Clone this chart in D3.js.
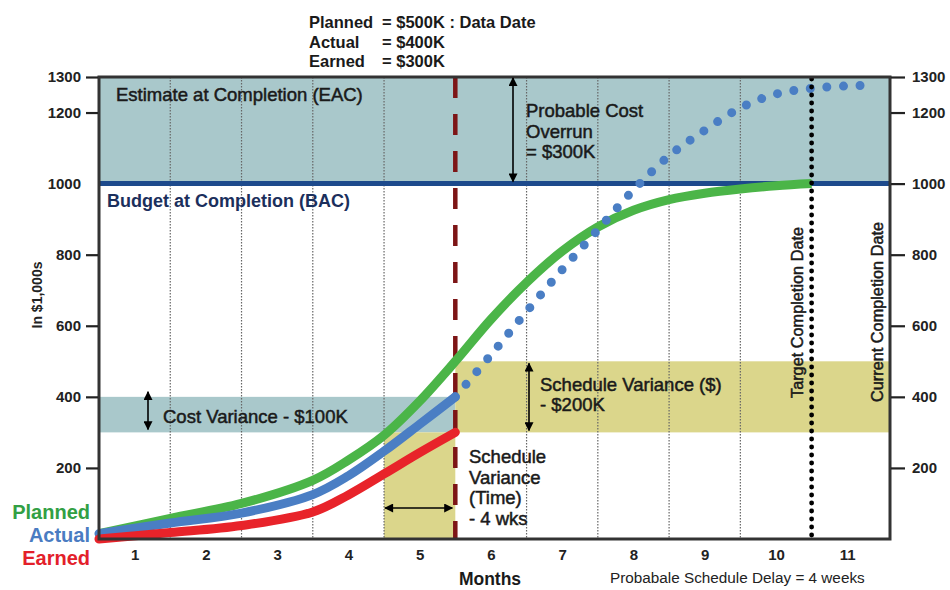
<!DOCTYPE html>
<html>
<head>
<meta charset="utf-8">
<script src="https://cdn.jsdelivr.net/npm/d3@7"></script>
<style>
  html, body { margin: 0; padding: 0; background: #fff; }
  svg { display: block; font-family: "Liberation Sans", Arial, Helvetica, sans-serif; }
</style>
</head>
<body>
<svg id="chart" width="950" height="590"></svg>
<script>
// ---- data (values in $1,000s, x in months) ----
const monthLabels = [1, 2, 3, 4, 5, 6, 7, 8, 9, 10, 11];
const gridMonths = [1.5, 2.5, 3.5, 4.5, 6.5, 7.5, 8.5, 9.5];
const yTicks = [200, 400, 600, 800, 1000, 1200, 1300];

const plannedMonths = [0.5, 1.5, 2.5, 3.5, 4.0, 4.5, 5.0, 5.5, 6.0, 6.5, 7.0, 7.5, 8.0, 8.5, 9.0, 9.5, 10.0, 10.5];
const plannedValues = [15, 58, 100, 165, 222, 292, 388, 500, 618, 722, 810, 878, 925, 955, 973, 985, 994, 1000];

const actualMonths = [0.5, 1.5, 2.5, 3.5, 4.0, 4.5, 5.0, 5.5];
const actualValues = [15, 45, 73, 125, 178, 247, 323, 400];
const earnedValues = [0, 18, 38, 76, 124, 183, 243, 300];

const forecastMonths = [5.5, 6.0, 6.5, 7.0, 7.5, 8.0, 8.5, 9.0, 9.5, 10.0, 10.5, 11.0, 11.4];
const forecastValues = [400, 518, 640, 758, 870, 982, 1078, 1150, 1213, 1252, 1268, 1275, 1277];

const dataDate = 5.5;
const targetDate = 10.5;
const budgetAtCompletion = 1000;
const estimateAtCompletion = 1300;
const plannedAtDataDate = 500;
const actualAtDataDate = 400;
const earnedAtDataDate = 300;
const scheduleSlipStart = 4.5;

// ---- colours ----
const C = {
  green: "#4bb548", blue: "#4a7ec4", red: "#e8232a",
  teal: "#a9c8cb", olive: "#dbd68b", bac: "#1d4a8c",
  dataDate: "#7d1516", frame: "#333", text: "#1a1a1a"
};

const svg = d3.select("#chart");
const x = d3.scaleLinear().domain([0.5, 11.6]).range([99, 890]);
const y = d3.scaleLinear().domain([0, 1300]).range([539, 77]);
const [x0, x1] = x.range();
const [yb, yt] = y.range();

// arrow heads
const defs = svg.append("defs");
defs.append("marker").attr("id", "arr")
  .attr("viewBox", "0 0 10 10").attr("refX", 9).attr("refY", 5)
  .attr("markerUnits", "userSpaceOnUse").attr("markerWidth", 10).attr("markerHeight", 9)
  .attr("orient", "auto-start-reverse")
  .append("path").attr("d", "M0,0 L10,5 L0,10 Z").attr("fill", "#000");

// ---- bands ----
const bands = svg.append("g");
bands.append("rect") // EAC region
  .attr("x", x0).attr("width", x1 - x0)
  .attr("y", y(estimateAtCompletion)).attr("height", y(budgetAtCompletion) - y(estimateAtCompletion))
  .attr("fill", C.teal);
bands.append("rect") // cost variance
  .attr("x", x0).attr("width", x(dataDate) - x0)
  .attr("y", y(actualAtDataDate)).attr("height", y(earnedAtDataDate) - y(actualAtDataDate))
  .attr("fill", C.teal);
bands.append("rect") // schedule variance ($)
  .attr("x", x(dataDate)).attr("width", x1 - x(dataDate))
  .attr("y", y(plannedAtDataDate)).attr("height", y(earnedAtDataDate) - y(plannedAtDataDate))
  .attr("fill", C.olive);
bands.append("rect") // schedule variance (time)
  .attr("x", x(scheduleSlipStart)).attr("width", x(dataDate) - x(scheduleSlipStart))
  .attr("y", y(earnedAtDataDate)).attr("height", y(0) - y(earnedAtDataDate))
  .attr("fill", C.olive);

// ---- dotted month dividers ----
svg.append("g").selectAll("line").data(gridMonths).join("line")
  .attr("x1", d => x(d)).attr("x2", d => x(d))
  .attr("y1", yt).attr("y2", yb)
  .attr("stroke", "#666").attr("stroke-width", 1.2).attr("stroke-dasharray", "1.5,1.5");

// ---- BAC line ----
svg.append("line")
  .attr("x1", x0).attr("x2", x1)
  .attr("y1", y(budgetAtCompletion)).attr("y2", y(budgetAtCompletion))
  .attr("stroke", C.bac).attr("stroke-width", 5);

// ---- data date line ----
svg.append("line")
  .attr("x1", x(dataDate)).attr("x2", x(dataDate))
  .attr("y1", yt).attr("y2", yb)
  .attr("stroke", C.dataDate).attr("stroke-width", 4.5).attr("stroke-dasharray", "21,16");

// ---- curves ----
const line = d3.line().x(d => x(d[0])).y(d => y(d[1])).curve(d3.curveCatmullRom.alpha(0.5));
const zip = (a, b) => a.map((v, i) => [v, b[i]]);

svg.append("path").datum(zip(plannedMonths, plannedValues))
  .attr("d", line).attr("fill", "none").attr("stroke", C.green)
  .attr("stroke-width", 9).attr("stroke-linecap", "butt");
svg.append("path").datum(zip(actualMonths, actualValues))
  .attr("d", line).attr("fill", "none").attr("stroke", C.blue)
  .attr("stroke-width", 9).attr("stroke-linecap", "round");
svg.append("path").datum(zip(actualMonths, earnedValues))
  .attr("d", line).attr("fill", "none").attr("stroke", C.red)
  .attr("stroke-width", 9).attr("stroke-linecap", "round");
svg.append("path").datum(zip(forecastMonths, forecastValues))
  .attr("d", line).attr("fill", "none").attr("stroke", C.blue)
  .attr("stroke-width", 9).attr("stroke-linecap", "round")
  .attr("stroke-dasharray", "0,16.6");

// ---- target completion line (dots) ----
svg.append("line")
  .attr("x1", x(targetDate)).attr("x2", x(targetDate))
  .attr("y1", yt + 2).attr("y2", yb)
  .attr("stroke", "#000").attr("stroke-width", 4.8)
  .attr("stroke-linecap", "round").attr("stroke-dasharray", "0,8");

// ---- frame ----
svg.append("rect")
  .attr("x", x0).attr("y", yt).attr("width", x1 - x0).attr("height", yb - yt)
  .attr("fill", "none").attr("stroke", C.frame).attr("stroke-width", 3);

// ---- axes ----
const fmt = d3.format("d");
const leftAxis = svg.append("g").attr("transform", `translate(${x0 - 1},0)`)
  .call(d3.axisLeft(y).tickValues(yTicks).tickSize(12).tickPadding(5).tickFormat(fmt));
leftAxis.selectAll(".tick line").filter(d => d === budgetAtCompletion).remove();
const rightAxis = svg.append("g").attr("transform", `translate(${x1 + 1},0)`)
  .call(d3.axisRight(y).tickValues(yTicks).tickSize(14).tickPadding(7).tickFormat(fmt));
[leftAxis, rightAxis].forEach(g => {
  g.select(".domain").remove();
  g.selectAll(".tick line").attr("stroke", "#222").attr("stroke-width", 2.2);
  g.selectAll(".tick text").attr("fill", "#222").attr("font-size", 15)
    .attr("font-weight", "bold").attr("font-family", "Liberation Sans, Arial, sans-serif");
});
const bottomAxis = svg.append("g").attr("transform", `translate(0,${yb})`)
  .call(d3.axisBottom(x).tickValues(monthLabels).tickSize(0).tickPadding(10).tickFormat(fmt));
bottomAxis.select(".domain").remove();
bottomAxis.selectAll(".tick text").attr("fill", "#222").attr("font-size", 15)
  .attr("font-weight", "bold").attr("font-family", "Liberation Sans, Arial, sans-serif");

// ---- arrows ----
const arrow = (xa, ya, xb, yb2) => svg.append("line")
  .attr("x1", xa).attr("y1", ya).attr("x2", xb).attr("y2", yb2)
  .attr("stroke", "#000").attr("stroke-width", 1.6)
  .attr("marker-start", "url(#arr)").attr("marker-end", "url(#arr)");
arrow(513, y(estimateAtCompletion) + 1, 513, y(budgetAtCompletion) - 2);
arrow(148, y(actualAtDataDate) - 5, 148, y(earnedAtDataDate) - 3);
arrow(529, y(plannedAtDataDate) + 2, 529, y(earnedAtDataDate) - 2);
arrow(x(scheduleSlipStart) + 1, 508, x(dataDate) - 3, 508);

// ---- text ----
const medium = (sel) => sel.attr("fill", C.text).attr("stroke", C.text).attr("stroke-width", 0.5);
const text = (str, tx, ty, size, opts = {}) => {
  const t = svg.append("text").attr("x", tx).attr("y", ty).attr("font-size", size).text(str);
  if (opts.bold) t.attr("font-weight", "bold").attr("fill", opts.color || C.text);
  else medium(t);
  if (opts.anchor) t.attr("text-anchor", opts.anchor);
  if (opts.color && !opts.bold) t.attr("fill", opts.color).attr("stroke", opts.color);
  return t;
};

// header summary at the data date
[["Planned", "= $500K : Data Date", 28], ["Actual", "= $400K", 48], ["Earned", "= $300K", 67]]
  .forEach(([k, v, ty]) => {
    text(k, 309, ty, 16.5, { bold: true });
    text(v, 382, ty, 16.5, { bold: true });
  });

text("Estimate at Completion (EAC)", 116, 101, 18.5);
text("Budget at Completion (BAC)", 107, 207, 18, { bold: true, color: "#1b2f5c" });
["Probable Cost", "Overrun", "= $300K"].forEach((s, i) => text(s, 526, 117 + i * 20.7, 18.5));
text("Cost Variance - $100K", 163, 423, 18.5);
text("Schedule Variance ($)", 540, 391, 18.5);
text("- $200K", 540, 411, 18.5);
["Schedule", "Variance", "(Time)", "- 4 wks"].forEach((s, i) => text(s, 469, 463 + i * 20.7, 18.5));

text("Months", 490, 585, 17.5, { bold: true, anchor: "middle" });
svg.append("text").attr("x", 610).attr("y", 583).attr("font-size", 15.3)
  .attr("fill", "#222").text("Probabale Schedule Delay = 4 weeks");

svg.append("text").attr("transform", "translate(42,295) rotate(-90)")
  .attr("text-anchor", "middle").attr("font-size", 14).attr("font-weight", "bold")
  .attr("fill", "#222").text("In $1,000s");

svg.append("text").attr("transform", `translate(803,398) rotate(-90)`)
  .attr("font-size", 16.3).call(medium).text("Target Completion Date");
svg.append("text").attr("transform", `translate(883,402) rotate(-90)`)
  .attr("font-size", 16.3).call(medium).text("Current Completion Date");

// legend
[["Planned", "#32a044", 519], ["Actual", "#4a7cc2", 542], ["Earned", "#e3202a", 565]]
  .forEach(([s, col, ty]) => text(s, 90, ty, 20, { bold: true, color: col, anchor: "end" }));
</script>
</body>
</html>
